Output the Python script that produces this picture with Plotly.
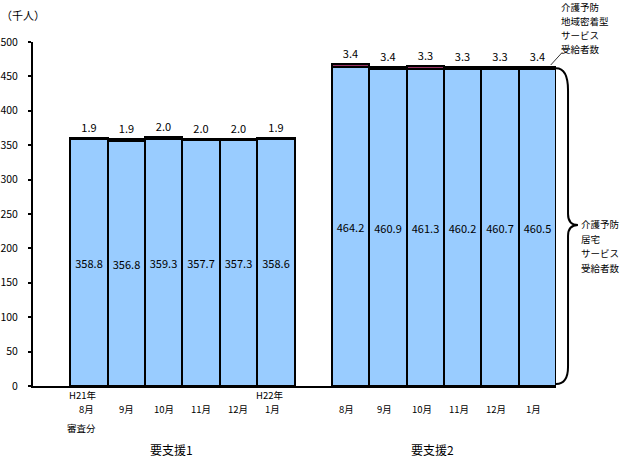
import plotly.graph_objects as go

# 要支援1 / 要支援2 の月別受給者数（千人）
months_1 = ["8月", "9月", "10月", "11月", "12月", "1月"]
years_1 = ["H21年", "", "", "", "", "H22年"]
months_2 = ["8月", "9月", "10月", "11月", "12月", "1月"]

kyotaku_1 = [358.8, 356.8, 359.3, 357.7, 357.3, 358.6]
chiiki_1 = [1.9, 1.9, 2.0, 2.0, 2.0, 1.9]
kyotaku_2 = [464.2, 460.9, 461.3, 460.2, 460.7, 460.5]
chiiki_2 = [3.4, 3.4, 3.3, 3.3, 3.3, 3.4]

group_names = ["要支援1", "要支援2"]
note_chiiki = ["介護予防", "地域密着型", "サービス", "受給者数"]
note_kyotaku = ["介護予防", "居宅", "サービス", "受給者数"]

FONT = "Noto Sans CJK JP"
PLOT_TOP, PLOT_BOTTOM = 42, 386


def py(px):
    # ピクセル位置 -> paper 座標
    return (PLOT_BOTTOM - px) / (PLOT_BOTTOM - PLOT_TOP)


def label(text, x, ypx, xref="x", xanchor="center", size=9.5):
    return dict(text=text, xref=xref, yref="paper", x=x, y=py(ypx), xanchor=xanchor,
                yanchor="middle", showarrow=False, borderpad=0, font=dict(size=size))


# slot 0 と 7 は空き
x1 = list(range(1, 1 + len(kyotaku_1)))
x2 = list(range(x1[-1] + 2, x1[-1] + 2 + len(kyotaku_2)))
xs = x1 + x2
kyotaku = kyotaku_1 + kyotaku_2
chiiki = chiiki_1 + chiiki_2

fig = go.Figure()
fig.add_trace(go.Bar(
    x=xs, y=kyotaku,
    marker=dict(color="#99CCFF", line=dict(color="black", width=2)),
    text=[f"{v:.1f}" for v in kyotaku],
    textposition="inside", insidetextanchor="middle", textangle=0,
    textfont=dict(family=FONT, size=11, color="black"),
    width=1, showlegend=False,
))
fig.add_trace(go.Bar(
    x=xs, y=chiiki,
    marker=dict(color="#993366", line=dict(color="black", width=2)),
    text=[f"{v:.1f}" for v in chiiki],
    textposition="outside", cliponaxis=False,
    textfont=dict(family=FONT, size=11, color="black"),
    width=1, showlegend=False,
))

ann = [label("（千人）", -0.063, 15, xref="paper", xanchor="left", size=11)]

# x 軸ラベル
for i, x in enumerate(x1):
    if years_1[i]:
        ann.append(label(years_1[i], x - 0.18, 395))
        ann.append(label(months_1[i], x - 0.08, 409))
    else:
        ann.append(label(months_1[i], x, 409))
ann.append(label("審査分", x1[0] - 0.2, 428))
for i, x in enumerate(x2):
    ann.append(label(months_2[i], x - 0.1, 409))

# グループ名
for name, grp in zip(group_names, [x1, x2]):
    ann.append(label(name, (grp[0] + grp[-1]) / 2 - 0.3, 450, size=12))

# 右側の説明
for line, ypx in zip(note_chiiki, [7, 21, 35, 49]):
    ann.append(label(line, 1.008, ypx, xref="paper", xanchor="left"))
for line, ypx in zip(note_kyotaku, [224, 238.5, 253, 267.5]):
    ann.append(label(line, 1.046, ypx, xref="paper", xanchor="left"))

shapes = [
    dict(type="line", xref="paper", yref="y", x0=0.990, y0=466.6, x1=1.012, y1=485,
         line=dict(color="black", width=0.8)),
    dict(type="path", xref="paper", yref="y",
         path="M 1.0,462 Q 1.023,462 1.023,430 L 1.023,250 Q 1.023,234 1.042,234 "
              "Q 1.023,234 1.023,218 L 1.023,28 Q 1.023,3 1.0,3",
         line=dict(color="black", width=2)),
]

fig.update_layout(
    barmode="stack",
    bargap=0,
    width=623, height=457,
    margin=dict(l=33, r=67, t=PLOT_TOP, b=457 - PLOT_BOTTOM, autoexpand=False),
    plot_bgcolor="white", paper_bgcolor="white",
    font=dict(family=FONT, size=11, color="black"),
    annotations=ann,
    shapes=shapes,
    uniformtext=dict(minsize=11, mode="show"),
)
fig.update_xaxes(range=[-0.5, 13.5], showline=True, linecolor="black", linewidth=2,
                 showticklabels=False, ticks="", showgrid=False, zeroline=False,
                 automargin=False)
fig.update_yaxes(range=[0, 500], dtick=50, showline=True, linecolor="black", linewidth=2,
                 ticks="outside", ticklen=3, tickwidth=2, tickcolor="black",
                 tickfont=dict(size=10.5), ticklabelstandoff=8,
                 showgrid=False, zeroline=False, automargin=False)

fig.write_html("out.html", config={"displayModeBar": False},
               post_script="document.body.style.margin='0';")
